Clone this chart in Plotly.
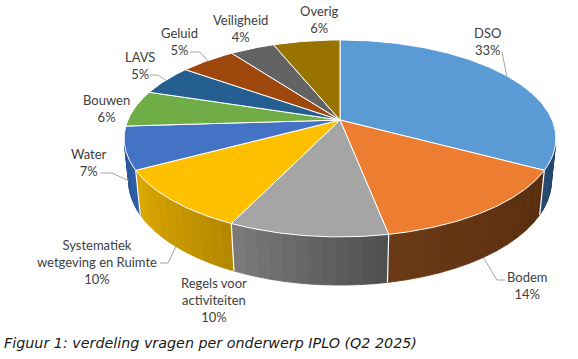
import math
import numpy as np
import plotly.graph_objects as go

# ---------------- data ----------------
categories = ["DSO", "Bodem", "Regels voor activiteiten", "Systematiek wetgeving en Ruimte",
              "Water", "Bouwen", "LAVS", "Geluid", "Veiligheid", "Overig"]
values = [33, 14, 10, 10, 7, 6, 5, 5, 4, 6]
label_names = ["DSO", "Bodem", "Regels voor<br>activiteiten", "Systematiek<br>wetgeving en Ruimte",
               "Water", "Bouwen", "LAVS", "Geluid", "Veiligheid", "Overig"]
caption = "Figuur 1: verdeling vragen per onderwerp IPLO (Q2 2025)"

# ---------------- style ----------------
top_colors = ["#5B9BD5", "#ED7D31", "#A5A5A5", "#FFC000", "#4472C4",
              "#70AD47", "#255E91", "#9E480E", "#636363", "#997300"]
# side colours: (right/dark end, left/light end)
side_colors = [("#1C3756", "#24476E"), ("#582D0F", "#6B3A16"), ("#4E4E4E", "#7C7C7C"),
               ("#B48700", "#DDA900"), ("#2E5DA6", "#2A5290"), ("#4E7A31", "#5A8C39"),
               ("#1A4266", "#1F4C76"), ("#6E320A", "#7E3A0C"), ("#454545", "#505050"),
               ("#6B5100", "#7A5C00")]
# label placement (centre x, centre y) in page pixel coordinates
label_pos = [(487, 41), (527, 285), (214, 300), (97, 262), (89, 162),
             (106, 108), (140, 65), (179, 41), (240, 28), (319, 19)]
# leader lines: (label side points, anchor height fraction of wall) or None
leaders = [([(502, 52)], 0.0), ([(505, 280), (497, 280)], 1.0), None,
           ([(160, 263), (168, 263)], 1.0), ([(100, 173), (112, 173)], 0.75), None,
           ([(150, 75), (158, 75)], 0.0), ([(190, 52), (200, 52)], 0.0), None, None]

W, Hpx = 578, 359
CX, CY = 340.0, 120.0      # apex of pie on screen
F = 1014.0                 # focal scale
D = 4.78                   # camera distance (in radii)
ELEV = math.asin(0.448)    # camera elevation
THICK = 0.225              # pie thickness (in radii)
ce, se = math.cos(ELEV), math.sin(ELEV)


def proj(theta_deg, r=1.0, z=0.0):
    t = np.radians(theta_deg)
    X = r * np.sin(t)
    Y = -r * np.cos(t)
    depth = D - Y * ce - z * se
    sx = CX + F * X / depth
    sy = CY - F * (-Y * se + z * ce) / depth
    return sx, sy


def hex2rgb(h):
    h = h.lstrip("#")
    return [int(h[i:i + 2], 16) for i in (0, 2, 4)]


def mix(c1, c2, f):
    a, b = hex2rgb(c1), hex2rgb(c2)
    return "rgb(%d,%d,%d)" % tuple(round(a[i] + (b[i] - a[i]) * f) for i in range(3))


total = float(sum(values))
cum = np.concatenate([[0], np.cumsum(values)]) / total * 360.0
starts, ends = cum[:-1], cum[1:]

# visible wall range (front-facing)
yth = 1.0 / (D * ce)
vis0 = math.degrees(math.acos(-yth))
vis1 = 360.0 - vis0

fig = go.Figure()

# ---- side walls ----
NSTRIP = 12
for i in range(len(values)):
    a0, a1 = max(starts[i], vis0), min(ends[i], vis1)
    if a1 <= a0:
        continue
    edges = np.linspace(a0, a1, NSTRIP + 1)
    for k in range(NSTRIP):
        th = np.linspace(edges[k], edges[k + 1], 6)
        tx, ty = proj(th, 1, 0)
        bx, by = proj(th[::-1], 1, -THICK)
        f = ((edges[k] + edges[k + 1]) / 2 - starts[i]) / (ends[i] - starts[i])
        col = mix(side_colors[i][0], side_colors[i][1], f)
        fig.add_trace(go.Scatter(x=np.concatenate([tx, bx, tx[:1]]), y=np.concatenate([ty, by, ty[:1]]),
                                 mode="lines", fill="toself", fillcolor=col,
                                 line=dict(color=col, width=0.8), hoverinfo="skip", showlegend=False))

# white separators on the wall
for b in cum[1:-1]:
    if vis0 < b < vis1:
        x0, y0 = proj(b, 1, 0)
        x1, y1 = proj(b, 1, -THICK)
        fig.add_trace(go.Scatter(x=[x0, x1], y=[y0, y1], mode="lines",
                                 line=dict(color="white", width=1.2), hoverinfo="skip", showlegend=False))

# ---- top faces ----
for i in range(len(values)):
    th = np.linspace(starts[i], ends[i], max(int((ends[i] - starts[i]) * 2), 4))
    ax, ay = proj(th, 1, 0)
    xs = np.concatenate([[CX], ax, [CX]])
    ys = np.concatenate([[CY], ay, [CY]])
    fig.add_trace(go.Scatter(x=xs, y=ys, mode="lines", fill="toself", fillcolor=top_colors[i],
                             line=dict(color="white", width=1), hoverinfo="skip",
                             name=categories[i], showlegend=False))

# ---- leader lines ----
mids = (starts + ends) / 2
for i, ld in enumerate(leaders):
    if ld is None:
        continue
    pts, zf = ld
    axp, ayp = proj(mids[i], 1, -THICK * zf)
    xs = [p[0] for p in pts] + [float(axp)]
    ys = [p[1] for p in pts] + [float(ayp)]
    fig.add_trace(go.Scatter(x=xs, y=ys, mode="lines", line=dict(color="#A6A6A6", width=1),
                             hoverinfo="skip", showlegend=False))

# ---- labels ----
for i in range(len(values)):
    pct = "%d%%" % round(values[i] / total * 100)
    fig.add_annotation(x=label_pos[i][0], y=label_pos[i][1], xref="x", yref="y",
                       text=label_names[i] + "<br>" + pct, showarrow=False,
                       xanchor="center", yanchor="middle", align="center",
                       font=dict(family="Lato", size=13, color="#404040"))

fig.add_annotation(x=2, y=343, xref="x", yref="y", text="<i>" + caption + "</i>",
                   showarrow=False, xanchor="left", yanchor="middle",
                   font=dict(family="DejaVu Sans", size=14.3, color="#1A1A1A"))

fig.update_layout(width=W, height=Hpx, margin=dict(l=0, r=0, t=0, b=0),
                  paper_bgcolor="white", plot_bgcolor="white",
                  xaxis=dict(range=[0, W], visible=False, fixedrange=True),
                  yaxis=dict(range=[Hpx, 0], visible=False, fixedrange=True),
                  showlegend=False, hovermode=False)

fig.write_html("out.html", config={"displayModeBar": False, "staticPlot": True},
               post_script="document.body.style.margin='0px';")
